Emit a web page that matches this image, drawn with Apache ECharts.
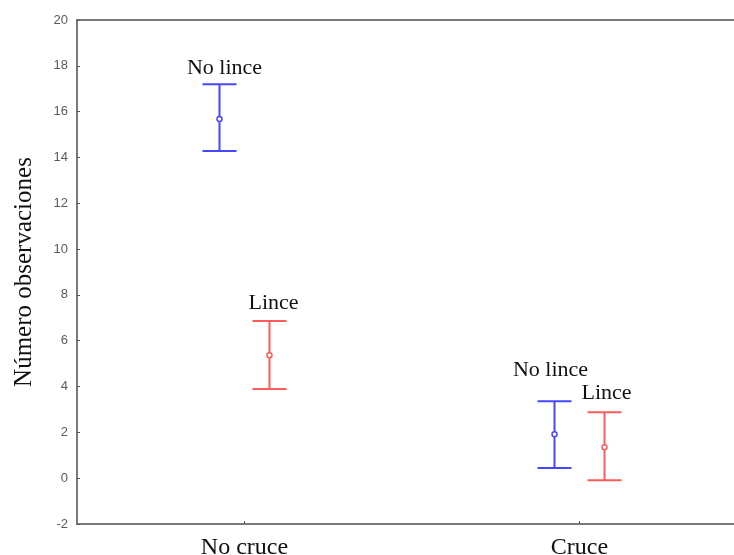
<!DOCTYPE html>
<html>
<head>
<meta charset="utf-8">
<script src="https://cdn.jsdelivr.net/npm/echarts@6/dist/echarts.min.js"></script>
<style>
  html, body { margin: 0; padding: 0; background: #fff; }
  #chart { width: 734px; height: 555px; }
</style>
</head>
<body>
<div id="chart"></div>
<script>
// ---- Data ----
const categories = ['No cruce', 'Cruce'];
const groupNames = ['No lince', 'Lince'];
const yTicks = [-2, 0, 2, 4, 6, 8, 10, 12, 14, 16, 18, 20];

const noLinceMean = [15.68, 1.92];
const noLinceLow  = [14.28, 0.44];
const noLinceHigh = [17.20, 3.36];

const linceMean = [5.37, 1.35];
const linceLow  = [3.89, -0.09];
const linceHigh = [6.86, 2.88];

// ---- Styling / layout ----
const groupColors = ['#4646ff', '#ff5a5a'];
const groupOffsetPx = [-25, 25];
const capHalf = 17;
// label nudges [dx, dy] relative to the upper cap, per group per category
const labelNudge = [
  [[5, -16], [-4, -31]],
  [[4, -18], [2, -19]]
];

function buildData(mean, low, high) {
  return categories.map((c, i) => [i, mean[i], low[i], high[i]]);
}

function makeSeries(gi, mean, low, high) {
  return {
    type: 'custom',
    name: groupNames[gi],
    data: buildData(mean, low, high),
    renderItem: function (params, api) {
      const i = api.value(0);
      const m = api.coord([i, api.value(1)]);
      const lo = api.coord([i, api.value(2)]);
      const hi = api.coord([i, api.value(3)]);
      const x = m[0] + groupOffsetPx[gi];
      const col = groupColors[gi];
      const nd = labelNudge[gi][i];
      const ls = { stroke: col, lineWidth: 2 };
      return {
        type: 'group',
        children: [
          { type: 'line', shape: { x1: x, y1: hi[1], x2: x, y2: lo[1] }, style: ls },
          { type: 'line', shape: { x1: x - capHalf, y1: hi[1], x2: x + capHalf, y2: hi[1] }, style: ls },
          { type: 'line', shape: { x1: x - capHalf, y1: lo[1], x2: x + capHalf, y2: lo[1] }, style: ls },
          { type: 'circle', shape: { cx: x, cy: m[1], r: 2.5 }, style: { fill: '#fff', stroke: col, lineWidth: 1.5 } },
          { type: 'text', style: {
              text: groupNames[gi], x: x + nd[0], y: hi[1] + nd[1],
              align: 'center', verticalAlign: 'middle',
              font: '22px "Liberation Serif", "DejaVu Serif", serif', fill: '#111'
          } }
        ]
      };
    }
  };
}

const chart = echarts.init(document.getElementById('chart'));
chart.setOption({
  animation: false,
  backgroundColor: '#fff',
  grid: {
    left: 77, top: 20, width: 670, bottom: 31,
    containLabel: false,
    outerBoundsMode: 'none',
    show: true, borderColor: '#7a7a7a', borderWidth: 2, backgroundColor: 'transparent'
  },
  xAxis: {
    type: 'category',
    data: categories,
    boundaryGap: true,
    axisLine: { show: true, onZero: false, lineStyle: { color: '#7a7a7a', width: 2 } },
    axisTick: { show: true, inside: true, alignWithLabel: true, length: 3, lineStyle: { color: '#555' } },
    axisLabel: { margin: 12, fontFamily: '"Liberation Serif", serif', fontSize: 24, color: '#111' },
    splitLine: { show: false }
  },
  yAxis: {
    type: 'value',
    min: yTicks[0], max: yTicks[yTicks.length - 1], interval: 2,
    name: 'Número observaciones',
    nameLocation: 'middle',
    nameGap: 40,
    nameTextStyle: { fontFamily: '"Liberation Serif", serif', fontSize: 25, color: '#111' },
    axisLine: { show: true, lineStyle: { color: '#7a7a7a', width: 2 } },
    axisTick: { show: true, inside: true, length: 3, lineStyle: { color: '#555' } },
    axisLabel: { margin: 9, fontFamily: 'Arial, "Liberation Sans", sans-serif', fontSize: 13, color: '#5a5a5a',
      formatter: v => yTicks.includes(v) ? String(v) : '' },
    splitLine: { show: false }
  },
  series: [
    makeSeries(0, noLinceMean, noLinceLow, noLinceHigh),
    makeSeries(1, linceMean, linceLow, linceHigh)
  ]
});
</script>
</body>
</html>
